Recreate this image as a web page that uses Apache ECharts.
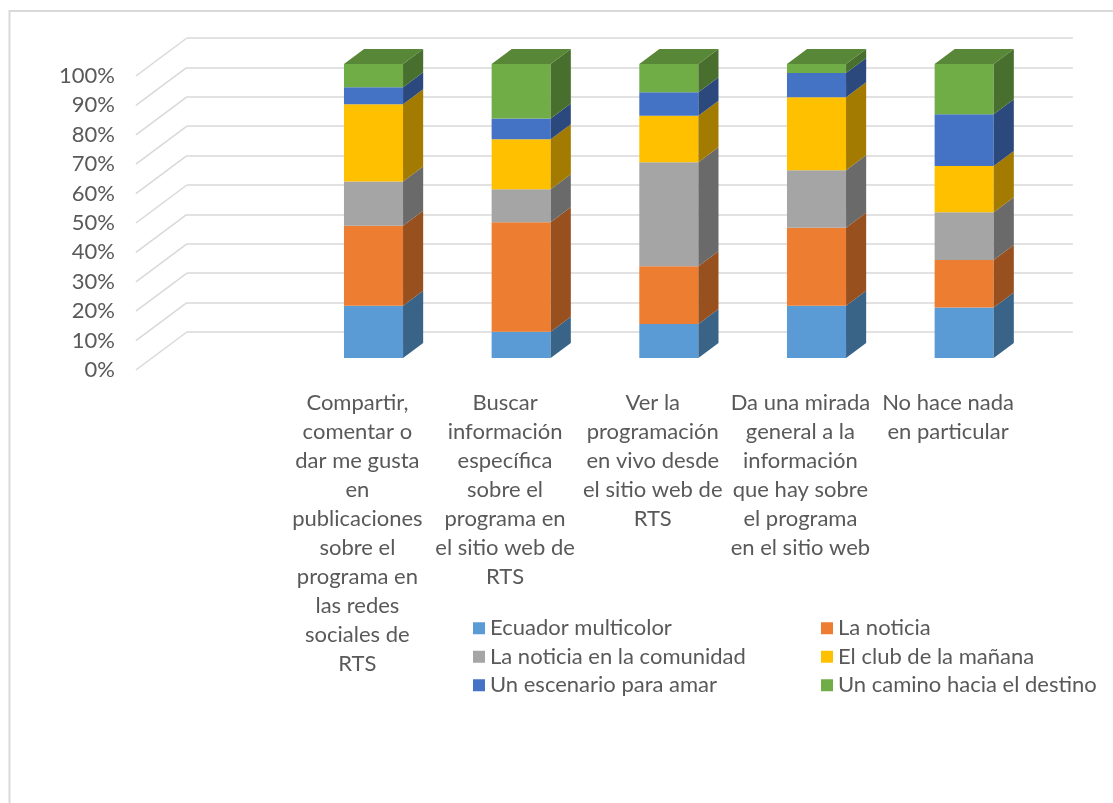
<!DOCTYPE html>
<html><head><meta charset="utf-8">
<script src="https://cdn.jsdelivr.net/npm/echarts@6/dist/echarts.min.js"></script>
<style>html,body{margin:0;padding:0;background:#fff}#c{width:1113px;height:803px}</style>
</head><body><div id="c"></div>
<script>
// ---- data ----
const categories = [
  '',
  'Compartir,\ncomentar o\ndar me gusta\nen\npublicaciones\nsobre el\nprograma en\nlas redes\nsociales de\nRTS',
  'Buscar\ninformación\nespecífica\nsobre el\nprograma en\nel sitio web de\nRTS',
  'Ver la\nprogramación\nen vivo desde\nel sitio web de\nRTS',
  'Da una mirada\ngeneral a la\ninformación\nque hay sobre\nel programa\nen el sitio web',
  'No hace nada\nen particular'
];
const seriesNames = ['Ecuador multicolor', 'La noticia', 'La noticia en la comunidad', 'El club de la mañana', 'Un escenario para amar', 'Un camino hacia el destino'];
const ecuadorMulticolor  = [null, 17.8,  8.9, 11.6, 17.8, 17.2];
const laNoticia          = [null, 27.2, 37.3, 19.6, 26.5, 16.1];
const laNoticiaComunidad = [null, 15.0, 11.2, 35.4, 19.6, 16.3];
const elClubManana       = [null, 26.3, 17.0, 15.8, 24.8, 15.7];
const unEscenario        = [null,  5.8,  7.1,  8.0,  8.2, 17.6];
const unCamino           = [null,  7.9, 18.5,  9.6,  3.1, 17.1];
const yTicks = [0, 10, 20, 30, 40, 50, 60, 70, 80, 90, 100];

// ---- styles ----
const frontColors = ['#5B9BD5', '#ED7D31', '#A5A5A5', '#FFC000', '#4472C4', '#70AD47'];
const sideColors  = ['#3A6388', '#98501F', '#6A6A6A', '#A37B00', '#2C497D', '#486F2D'];
const topColors   = ['#4A7EAD', '#C06527', '#868686', '#CF9C00', '#375D9F', '#578737'];
const FONT = 'Lato';
const TXT = '#595959';
const GRID_C = '#d9d9d9';
const RATIO = 1.342;        // dx per dy of the oblique projection
const BAR_DY = 15, BAR_DX = BAR_DY * RATIO;
const BACK_DY = 26, BACK_DX = BACK_DY * RATIO;
const FRONT_DY = 12, FRONT_DX = FRONT_DY * RATIO;

const allValues = [ecuadorMulticolor, laNoticia, laNoticiaComunidad, elClubManana, unEscenario, unCamino];

// 100% stacking
const totals = categories.map((c, i) => allValues.reduce((s, arr) => s + (arr[i] || 0), 0));
const stacked = allValues.map(() => []);
categories.forEach((c, i) => {
  if (!totals[i]) return;
  let acc = 0;
  allValues.forEach((arr, s) => {
    const v = arr[i] / totals[i] * 100;
    stacked[s].push([i, acc, acc + v]);
    acc += v;
  });
});

const chart = echarts.init(document.getElementById('c'), null, {renderer: 'canvas'});

const barSeries = allValues.map((arr, s) => ({
  type: 'custom',
  name: seriesNames[s],
  xAxisIndex: 0, yAxisIndex: 0,
  itemStyle: {color: frontColors[s]},
  z: 5,
  silent: true,
  data: stacked[s],
  renderItem: function (params, api) {
    const ci = api.value(0);
    const p0 = api.coord([ci, api.value(1)]);
    const p1 = api.coord([ci, api.value(2)]);
    const bw = api.size([1, 0])[0] * 0.4;
    const x0 = p0[0] - bw / 2, x1 = p0[0] + bw / 2;
    const yb = p0[1], yt = p1[1];
    const children = [
      {type: 'rect', shape: {x: x0, y: yt, width: bw, height: yb - yt}, style: {fill: frontColors[s]}},
      {type: 'polygon', shape: {points: [[x1, yb], [x1, yt], [x1 + BAR_DX, yt - BAR_DY], [x1 + BAR_DX, yb - BAR_DY]]}, style: {fill: sideColors[s]}}
    ];
    if (s === allValues.length - 1) {
      children.push({type: 'polygon', shape: {points: [[x0, yt], [x1, yt], [x1 + BAR_DX, yt - BAR_DY], [x0 + BAR_DX, yt - BAR_DY]]}, style: {fill: topColors[s]}});
    }
    return {type: 'group', children: children};
  }
}));

const diagSeries = {
  type: 'custom',
  xAxisIndex: 0, yAxisIndex: 0,
  silent: true,
  z: 1,
  data: yTicks.map(v => [0, v]),
  renderItem: function (params, api) {
    const p = api.coord([0, api.value(1)]);
    const x = params.coordSys.x, y = p[1];
    return {type: 'line', shape: {x1: x - FRONT_DX, y1: y + FRONT_DY, x2: x + BACK_DX, y2: y - BACK_DY},
            style: {stroke: GRID_C, lineWidth: 1.5}};
  }
};

const hiddenCat = (gi, show) => ({
  type: 'category', gridIndex: gi, data: categories,
  axisLine: {show: false}, axisTick: {show: false}, splitLine: {show: false},
  axisLabel: show ? {show: true, interval: 0, color: TXT, fontFamily: FONT, fontSize: 22, lineHeight: 29, margin: 18, align: 'center'} : {show: false}
});
const valAxis = (gi, showSplit, showLabel) => ({
  type: 'value', gridIndex: gi, min: 0, max: 100, interval: 10,
  axisLine: {show: false}, axisTick: {show: false},
  splitLine: {show: showSplit, lineStyle: {color: GRID_C, width: 1.5}},
  axisLabel: showLabel ? {show: true, formatter: '{value}%', color: TXT, fontFamily: FONT, fontSize: 22, margin: 21} : {show: false}
});

const option = {
  backgroundColor: '#ffffff',
  animation: false,
  grid: [
    {left: 152, right: 75, top: 64, bottom: 445},
    {left: 152 + BACK_DX, right: 75 - BACK_DX, top: 64 - BACK_DY, bottom: 445 + BACK_DY},
    {left: 152 - FRONT_DX, right: 75 + FRONT_DX, top: 64 + FRONT_DY, bottom: 445 - FRONT_DY}
  ],
  xAxis: [hiddenCat(0, false), hiddenCat(1, false), hiddenCat(2, true)],
  yAxis: [valAxis(0, false, false), valAxis(1, true, false), valAxis(2, false, true)],
  legend: [
    {data: [seriesNames[0], seriesNames[2], seriesNames[4]], orient: 'vertical', left: 468, top: 609,
     icon: 'rect', itemWidth: 12, itemHeight: 12, itemGap: 0, selectedMode: false,
     textStyle: {color: TXT, fontFamily: FONT, fontSize: 22, lineHeight: 28.5}},
    {data: [seriesNames[1], seriesNames[3], seriesNames[5]], orient: 'vertical', left: 816, top: 609,
     icon: 'rect', itemWidth: 12, itemHeight: 12, itemGap: 0, selectedMode: false,
     textStyle: {color: TXT, fontFamily: FONT, fontSize: 22, lineHeight: 28.5}}
  ],
  graphic: [
    {type: 'rect', silent: true, z: -10, shape: {x: 9.5, y: 11, width: 1300, height: 1000},
     style: {fill: null, stroke: GRID_C, lineWidth: 2}}
  ],
  series: [diagSeries].concat(barSeries)
};
chart.setOption(option);
</script>
</body></html>
